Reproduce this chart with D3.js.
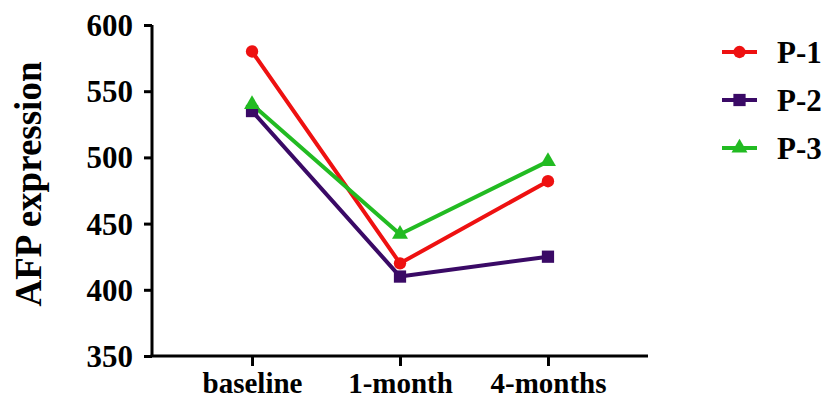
<!DOCTYPE html>
<html><head><meta charset="utf-8">
<script src="https://cdn.jsdelivr.net/npm/d3@7"></script>
<style>
html,body{margin:0;padding:0;background:#fff;}
</style></head>
<body><svg id="c" width="823" height="398"></svg>
<script>
const categories = ["baseline", "1-month", "4-months"];
const seriesNames = ["P-1", "P-2", "P-3"];
const p1 = [580, 420, 482];
const p2 = [535, 410, 425];
const p3 = [540, 442, 497];
const yTicks = [350, 400, 450, 500, 550, 600];
const colors = ["#ee1111", "#3a0a66", "#22bb22"];
const symbols = [d3.symbolCircle, d3.symbolSquare, d3.symbolTriangle];
const symSizes = [120, 150, 110];
const FONT = "Liberation Serif";

const series = [p1, p2, p3].map((v, i) => ({name: seriesNames[i], values: v, color: colors[i], symbol: symbols[i], size: symSizes[i]}));

const svg = d3.select("#c");
const x = d3.scalePoint().domain(categories).range([152, 648]).padding(0.676);
const y = d3.scaleLinear().domain([350, 600]).range([356, 25]);

// y axis
const ya = svg.append("g").attr("transform", "translate(152,0)")
  .call(d3.axisLeft(y).tickValues(yTicks).tickSize(8).tickPadding(11).tickSizeOuter(0));
ya.select(".domain").attr("stroke", "#000").attr("stroke-width", 3).attr("d", "M0,356V25");
ya.selectAll(".tick line").attr("stroke", "#000").attr("stroke-width", 3);
ya.selectAll(".tick text").attr("font-family", FONT).attr("font-weight", "bold").attr("font-size", 31).attr("fill", "#000").attr("dy", "0.34em");

// x axis
const xa = svg.append("g").attr("transform", "translate(0,356)")
  .call(d3.axisBottom(x).tickSize(10).tickPadding(6).tickSizeOuter(0));
xa.select(".domain").attr("stroke", "#000").attr("stroke-width", 3).attr("d", "M150.5,0H648");
xa.selectAll(".tick line").attr("stroke", "#000").attr("stroke-width", 3);
xa.selectAll(".tick text").attr("font-family", FONT).attr("font-weight", "bold").attr("font-size", 29).attr("fill", "#000").attr("dy", "0.71em");

// y title
svg.append("text").attr("transform", "translate(41,184) rotate(-90)")
  .attr("text-anchor", "middle").attr("font-family", FONT).attr("font-weight", "bold")
  .attr("font-size", 37).attr("fill", "#000").text("AFP expression");

const line = d3.line().x((d, i) => x(categories[i])).y(d => y(d));
series.forEach(s => {
  svg.append("path").attr("d", line(s.values)).attr("fill", "none")
    .attr("stroke", s.color).attr("stroke-width", 4).attr("stroke-linejoin", "round");
});
series.forEach(s => {
  svg.selectAll(null).data(s.values).enter().append("path")
    .attr("d", d3.symbol().type(s.symbol).size(s.size))
    .attr("transform", (d, i) => `translate(${x(categories[i])},${y(d)})`)
    .attr("fill", s.color);
});

// legend
const lg = svg.append("g");
series.forEach((s, i) => {
  const cy = 52 + i * 48;
  lg.append("line").attr("x1", 722).attr("x2", 757).attr("y1", cy).attr("y2", cy)
    .attr("stroke", s.color).attr("stroke-width", 4);
  lg.append("path").attr("d", d3.symbol().type(s.symbol).size(s.size))
    .attr("transform", `translate(739.5,${cy})`).attr("fill", s.color);
  lg.append("text").attr("x", 777).attr("y", cy).attr("dy", "0.35em")
    .attr("font-family", FONT).attr("font-weight", "bold").attr("fill", "#000")
    .attr("font-size", 31).text(s.name);
});
</script></body></html>
